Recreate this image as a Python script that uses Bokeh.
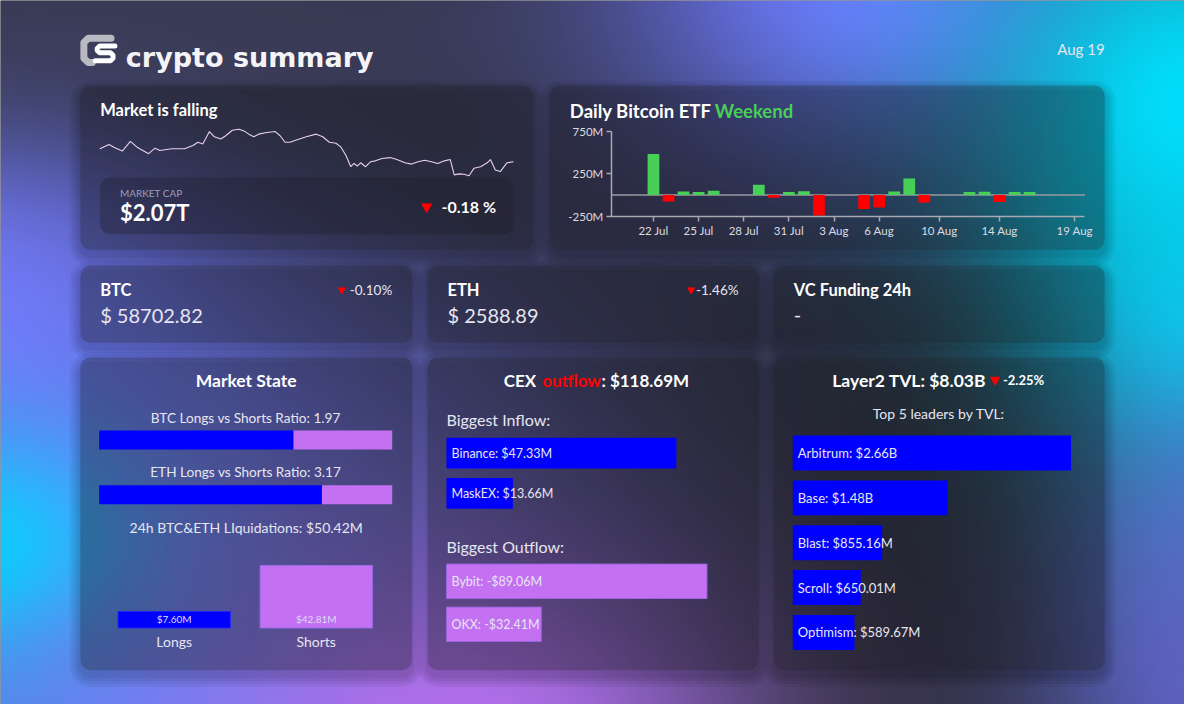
import numpy as np
from bokeh.plotting import figure
from bokeh.models import Range1d, LinearAxis, FixedTicker
from bokeh.core.properties import value
from bokeh.embed import file_html
from bokeh.resources import INLINE

# ---------------- data ----------------
brand = "crypto summary"
date_label = "Aug 19"

spark_hours = [0, 3.7, 5.7, 9.1, 12.4, 15.1, 19.8, 22.4, 24.4, 29.1, 34.4, 37.8, 39.8, 41.8, 44.5, 46.5,
               49.1, 51.1, 53.8, 56.5, 58.5, 60.5, 62.5, 64.5, 67.8, 71.2, 73.2, 75.2, 77.2, 79.8, 83.8,
               87.9, 90.5, 93.2, 95.9, 97.9, 99.9, 101.9, 103.2, 104.5, 105.9, 107.9, 109.9, 111.9, 114.6,
               117.9, 120.6, 123.9, 126.6, 129.2, 131.9, 134.6, 137.2, 139.9, 142.3, 143.9, 145.9, 147.9,
               149.9, 151.9, 154.6, 157.3, 158.6, 160.6, 162.6, 165.3, 168.0]
spark_cap = [2.110, 2.123, 2.115, 2.103, 2.133, 2.115, 2.095, 2.112, 2.105, 2.110, 2.110, 2.120, 2.130,
             2.125, 2.163, 2.147, 2.140, 2.150, 2.167, 2.170, 2.165, 2.155, 2.147, 2.155, 2.160, 2.163,
             2.150, 2.130, 2.130, 2.137, 2.147, 2.155, 2.147, 2.130, 2.127, 2.115, 2.090, 2.055, 2.065,
             2.057, 2.067, 2.055, 2.070, 2.073, 2.080, 2.083, 2.077, 2.067, 2.063, 2.070, 2.075, 2.070,
             2.065, 2.073, 2.077, 2.030, 2.033, 2.032, 2.027, 2.050, 2.055, 2.067, 2.077, 2.045, 2.040,
             2.067, 2.070]
market_title = "Market is falling"
market_cap_text = "$2.07T"
market_change_text = "-0.18 %"

etf_day = [0, 1, 2, 3, 4, 7, 8, 9, 10, 11, 14, 15, 16, 17, 18, 21, 22, 23, 24, 25]
etf_flow = [485, -77, 42, 35, 50, 123, -31, 35, 46, -242, -165, -146, 42, 196, -88, 35, 38, -81, 35, 35]
etf_x_ticks = [0, 3, 6, 9, 12, 15, 19, 23, 28]
etf_x_labels = ["22 Jul", "25 Jul", "28 Jul", "31 Jul", "3 Aug", "6 Aug", "10 Aug", "14 Aug", "19 Aug"]
etf_y_ticks = [-250, 250, 750]
etf_y_labels = ["-250M", "250M", "750M"]

coin_names = ["BTC", "ETH"]
coin_prices = ["$ 58702.82", "$ 2588.89"]
coin_changes = ["-0.10%", "-1.46%"]
vc_title = "VC Funding 24h"
vc_value = "-"

ratio_assets = ["BTC", "ETH"]
ratio_values = [1.97, 3.17]
liq_total = 50.42
liq_sides = ["Longs", "Shorts"]
liq_values = [7.60, 42.81]
liq_axis_min = -5.0  # estimated floor of the liquidation bar axis

cex_net_outflow = 118.69
inflow_names = ["Binance", "MaskEX"]
inflow_values = [47.33, 13.66]
outflow_names = ["Bybit", "OKX"]
outflow_values = [-89.06, -32.41]

l2_total_text = "$8.03B"
l2_change_text = "-2.25%"
l2_names = ["Arbitrum", "Base", "Blast", "Scroll", "Optimism"]
l2_tvl = [2660.0, 1480.0, 855.16, 650.01, 589.67]
l2_value_text = ["$2.66B", "$1.48B", "$855.16M", "$650.01M", "$589.67M"]

# ---------------- styles ----------------
FONT = "Lato"
WHITE = "#ffffff"
SOFT = "#e6e6f0"
BLUE = "#0000ff"
PURPLE = "#c470f2"
GREEN = "#48cf58"
RED = "#ff0000"

FX0, FX1 = 0, 1200          # design grid (x)
FYB, FYT = 720, 0           # design grid bottom / top (y)

p = figure(width=1184, height=704, x_range=Range1d(FX0, FX1), y_range=Range1d(FYB, FYT),
           output_backend="svg", toolbar_location=None, x_axis_location=None, y_axis_location=None,
           min_border=0, outline_line_color=None,
           background_fill_color="#2c2c30", border_fill_color="#2c2c30")
p.xgrid.visible = False
p.ygrid.visible = False


def lin_range(d0, d1, s0, s1, f0, f1):
    k = (d1 - d0) / (s1 - s0)
    return Range1d(start=d0 + (f0 - s0) * k, end=d0 + (f1 - s0) * k)


xr, yr = {}, {}


def sub_x(name, d0, d1, s0, s1):
    xr[name] = lin_range(d0, d1, s0, s1, FX0, FX1)


def sub_y(name, d0, d1, s0, s1):
    yr[name] = lin_range(d0, d1, s0, s1, FYB, FYT)


def px_to_x(name, s):
    r = xr[name]
    return r.start + (s - FX0) / (FX1 - FX0) * (r.end - r.start)


sub_y("bg", 0, 1, FYB, FYT)
sub_x("sp_x", min(spark_hours), max(spark_hours), 100.7, 520)
sub_y("sp_y", min(spark_cap), max(spark_cap), 179.3, 131.7)
sub_x("etf_x", 0, 28, 661.8, 1088.8)
sub_y("etf_y", 0, 250, 199, 177.3)
sub_x("ms_x", 0, 1, 100, 397)
sub_y("ms_y", 0, 1, 449.5, 505.5)
sub_x("liq_x", 0, 1, 176, 320)
sub_y("liq_y", liq_axis_min, 45, 641.7, 575)
sub_x("in_x", 0, max(inflow_values), 452, 685)
sub_y("in_y", 0, 1, 463, 504)
sub_x("out_x", 0, max(abs(v) for v in outflow_values), 452, 716)
sub_y("out_y", 0, 1, 594, 638)
sub_x("l2_x", 0, max(l2_tvl), 803, 1085)
sub_y("l2_y", 0, len(l2_names) - 1, 462.8, 646.3)
p.extra_x_ranges = xr
p.extra_y_ranges = yr

# ---------------- background gradient ----------------
gh, gw = 360, 600
gx = np.linspace(FX0, FX1, gw)[None, :]
gy = np.linspace(FYB, FYT, gh)[:, None]
col = np.zeros((gh, gw, 3))
col[:] = (39, 39, 43)


def blob(cx, cy, sx, sy, rgb, s):
    w = s * np.exp(-(((gx - cx) / sx) ** 2 + ((gy - cy) / sy) ** 2) / 2.0)
    col[:] = col * (1 - w[..., None]) + np.array(rgb, dtype=float) * w[..., None]


blob(60, 560, 380, 260, (118, 128, 255), 1.0)
blob(-30, 330, 160, 150, (114, 122, 250), 1.0)
blob(200, 20, 300, 90, (60, 62, 90), 0.8)
blob(870, -20, 190, 150, (110, 118, 248), 1.0)
blob(1220, 110, 170, 170, (0, 226, 255), 1.0)
blob(1230, 330, 120, 140, (0, 215, 245), 0.95)
blob(1230, 560, 100, 120, (70, 140, 220), 0.7)
blob(-20, 580, 110, 95, (0, 215, 255), 1.0)
blob(60, 740, 150, 80, (60, 150, 230), 0.7)
blob(200, 770, 160, 110, (100, 128, 245), 0.85)
blob(470, 770, 200, 150, (182, 112, 238), 1.0)
blob(1230, 720, 130, 180, (100, 100, 205), 0.9)

img = np.empty((gh, gw), dtype=np.uint32)
view = img.view(dtype=np.uint8).reshape((gh, gw, 4))
view[..., 0] = np.clip(col[..., 0], 0, 255).astype(np.uint8)
view[..., 1] = np.clip(col[..., 1], 0, 255).astype(np.uint8)
view[..., 2] = np.clip(col[..., 2], 0, 255).astype(np.uint8)
view[..., 3] = 255
p.image_rgba(image=[img], x=FX0, y=0, dw=FX1 - FX0, dh=1, y_range_name="bg")

# ---------------- panels ----------------
panels = [(81, 540, 87, 255), (557, 1119, 87, 255),
          (81, 417, 271, 350), (433, 768, 271, 350), (784, 1119, 271, 350),
          (81, 417, 365, 685), (433, 768, 365, 685), (784, 1119, 365, 685)]
L = [b[0] for b in panels]
R = [b[1] for b in panels]
T = [b[2] for b in panels]
B = [b[3] for b in panels]
for e in (2, 5, 8, 11):
    p.quad(left=[l - e for l in L], right=[r + e for r in R], top=[t - e + 6 for t in T],
           bottom=[b + e + 6 for b in B], fill_color="#000000", fill_alpha=0.05, line_color=None,
           border_radius=10 + e)
p.quad(left=L, right=R, top=T, bottom=B, fill_color="#222226", fill_alpha=0.26, line_color=None,
       border_radius=10)
p.quad(left=[101], right=[520], top=[181], bottom=[239], fill_color="#1c1c26", fill_alpha=0.3,
       line_color=None, border_radius=10)


def label(x, y, txt, size, color=WHITE, bold=False, align="left", baseline="middle", font=FONT, **kw):
    p.text(x=[x], y=[y], text=[txt], text_font=value(font), text_font_size=f"{size}px",
           text_color=color, text_font_style="bold" if bold else "normal",
           text_align=align, text_baseline=baseline, **kw)


# ---------------- header ----------------
p.line(x=[112, 89, 84.5, 84.5, 89, 93], y=[38.5, 38.5, 43, 59, 63.5, 63.5], line_width=7,
       line_color="#b9b9c2", line_cap="round", line_join="round")
p.line(x=[116, 100.5, 98, 98, 100.5, 111.5, 114, 114, 111.5, 96],
       y=[46.5, 46.5, 49, 51, 53.5, 53.5, 56, 59, 61.5, 61.5], line_width=5,
       line_color=WHITE, line_cap="round", line_join="round")
label(127, 58, brand, 27, color="#f4f4f8", bold=True, baseline="alphabetic", font="DejaVu Sans")
label(1119, 50, date_label, 15, color=SOFT, align="right")

# ---------------- market panel ----------------
label(101, 112, market_title, 16.5, bold=True)
p.line(x=spark_hours, y=spark_cap, x_range_name="sp_x", y_range_name="sp_y",
       line_color="#e8d0ea", line_width=1.1)
label(121, 197, "MARKET CAP", 10, color="#9c9eb8")
label(121, 217, market_cap_text, 22, bold=True)
p.scatter(x=[432], y=[211], marker="inverted_triangle", size=10, color=RED)
label(447, 211, market_change_text, 16, bold=True)

# ---------------- ETF panel ----------------
label(577, 113, "Daily Bitcoin ETF", 18.5, bold=True)
label(724, 113, "Weekend", 18.5, color=GREEN, bold=True)
axis_x0 = px_to_x("etf_x", 619)
axis_x1 = px_to_x("etf_x", 1099)
p.segment(x0=[axis_x0], x1=[axis_x1], y0=[0], y1=[0], x_range_name="etf_x", y_range_name="etf_y",
          line_color="#9a9aa2", line_width=1.5)
etf_colors = [GREEN if v >= 0 else RED for v in etf_flow]
p.vbar(x=etf_day, top=etf_flow, bottom=0, width=0.78, fill_color=etf_colors, line_color=None,
       x_range_name="etf_x", y_range_name="etf_y")

yax = LinearAxis(x_range_name="etf_x", y_range_name="etf_y", fixed_location=axis_x0,
                 bounds=(min(etf_y_ticks), max(etf_y_ticks)), ticker=FixedTicker(ticks=etf_y_ticks),
                 major_label_overrides={t: s for t, s in zip(etf_y_ticks, etf_y_labels)})
xax = LinearAxis(x_range_name="etf_x", y_range_name="etf_y", fixed_location=min(etf_y_ticks),
                 bounds=(axis_x0, axis_x1), ticker=FixedTicker(ticks=etf_x_ticks),
                 major_label_overrides={t: s for t, s in zip(etf_x_ticks, etf_x_labels)})
for ax in (yax, xax):
    ax.axis_line_color = "#a8a8b0"
    ax.axis_line_width = 1.5
    ax.major_tick_line_color = "#a8a8b0"
    ax.major_tick_line_width = 1.5
    ax.major_tick_in = 0
    ax.major_tick_out = 5
    ax.minor_tick_line_color = None
    ax.major_label_text_color = "#dcdce0"
    ax.major_label_text_font = FONT
    ax.major_label_text_font_size = "11.5px"
    ax.major_label_standoff = 3
p.add_layout(yax, "left")
p.add_layout(xax, "below")

# ---------------- coin cards ----------------
card_left = [101, 453]
tri_x = [346, 700]
change_right = [397, 748]
for i in range(len(coin_names)):
    label(card_left[i], 296, coin_names[i], 16.5, bold=True)
    label(card_left[i], 322, coin_prices[i], 20, color=SOFT)
    p.scatter(x=[tri_x[i]], y=[296], marker="inverted_triangle", size=7, color=RED)
    label(change_right[i], 296, coin_changes[i], 13.5, color=SOFT, align="right")
label(804, 296, vc_title, 16.5, bold=True)
label(804, 322, vc_value, 20, color=SOFT)

# ---------------- market state ----------------
label(249, 389, "Market State", 17.5, bold=True, align="center")
fracs = [r / (r + 1) for r in ratio_values]
idx = list(range(len(ratio_values)))
p.hbar(y=idx, left=0, right=fracs, height=0.35, fill_color=BLUE, line_color=None,
       x_range_name="ms_x", y_range_name="ms_y")
p.hbar(y=idx, left=fracs, right=1, height=0.35, fill_color=PURPLE, line_color=None,
       x_range_name="ms_x", y_range_name="ms_y")
p.text(x=[0.5] * len(idx), y=idx,
       text=[f"{a} Longs vs Shorts Ratio: {r:.2f}" for a, r in zip(ratio_assets, ratio_values)],
       x_range_name="ms_x", y_range_name="ms_y", y_offset=-22.5, text_align="center",
       text_baseline="middle", text_font=value(FONT), text_font_size="13.6px", text_color=SOFT)
label(249, 539, f"24h BTC&ETH LIquidations: ${liq_total:.2f}M", 14, color=SOFT, align="center")
lx = list(range(len(liq_values)))
p.vbar(x=lx, top=liq_values, bottom=liq_axis_min, width=0.79, fill_color=[BLUE, PURPLE],
       line_color=["#2020ff", "#9a70e8"], line_width=1, x_range_name="liq_x", y_range_name="liq_y")
p.text(x=lx, y=[liq_axis_min] * len(lx), text=[f"${v:.2f}M" for v in liq_values],
       x_range_name="liq_x", y_range_name="liq_y", y_offset=-8.5, text_align="center",
       text_baseline="middle", text_font=value(FONT), text_font_size="10px", text_color="#dcdcf6")
p.text(x=lx, y=[liq_axis_min] * len(lx), text=liq_sides, x_range_name="liq_x", y_range_name="liq_y",
       y_offset=13.5, text_align="center", text_baseline="middle", text_font=value(FONT),
       text_font_size="14px", text_color=SOFT)

# ---------------- CEX ----------------
label(510, 389, "CEX", 17, bold=True)
label(549, 389, "outflow", 17, color=RED, bold=True)
label(609, 389, f": ${cex_net_outflow:.2f}M", 17, bold=True)
label(452, 429, "Biggest Inflow:", 16, color=SOFT)
label(452, 558, "Biggest Outflow:", 16, color=SOFT)
ii = list(range(len(inflow_values)))
p.hbar(y=ii, left=0, right=inflow_values, height=0.766, fill_color=BLUE, line_color=None,
       x_range_name="in_x", y_range_name="in_y")
p.text(x=[0] * len(ii), y=ii, text=[f"{n}: ${v:.2f}M" for n, v in zip(inflow_names, inflow_values)],
       x_range_name="in_x", y_range_name="in_y", x_offset=5, text_baseline="middle",
       text_font=value(FONT), text_font_size="12.5px", text_color=SOFT)
oi = list(range(len(outflow_values)))
p.hbar(y=oi, left=0, right=[abs(v) for v in outflow_values], height=0.8, fill_color=PURPLE,
       line_color="#9a66dc", line_width=1, x_range_name="out_x", y_range_name="out_y")
p.text(x=[0] * len(oi), y=oi,
       text=[f"{n}: -${abs(v):.2f}M" for n, v in zip(outflow_names, outflow_values)],
       x_range_name="out_x", y_range_name="out_y", x_offset=5, text_baseline="middle",
       text_font=value(FONT), text_font_size="12.5px", text_color=SOFT)

# ---------------- Layer2 ----------------
label(843, 389, f"Layer2 TVL: {l2_total_text}", 17.5, bold=True)
p.scatter(x=[1008], y=[388], marker="inverted_triangle", size=9, color=RED)
label(1016, 388, l2_change_text, 13, bold=True)
label(951, 422, "Top 5 leaders by TVL:", 14, color=SOFT, align="center")
li = list(range(len(l2_tvl)))
p.hbar(y=li, left=0, right=l2_tvl, height=0.78, fill_color=BLUE, line_color=None,
       x_range_name="l2_x", y_range_name="l2_y")
p.text(x=[0] * len(li), y=li, text=[f"{n}: {t}" for n, t in zip(l2_names, l2_value_text)],
       x_range_name="l2_x", y_range_name="l2_y", x_offset=5, text_baseline="middle",
       text_font=value(FONT), text_font_size="13px", text_color=SOFT)

open("out.html", "w").write(file_html(p, INLINE))
